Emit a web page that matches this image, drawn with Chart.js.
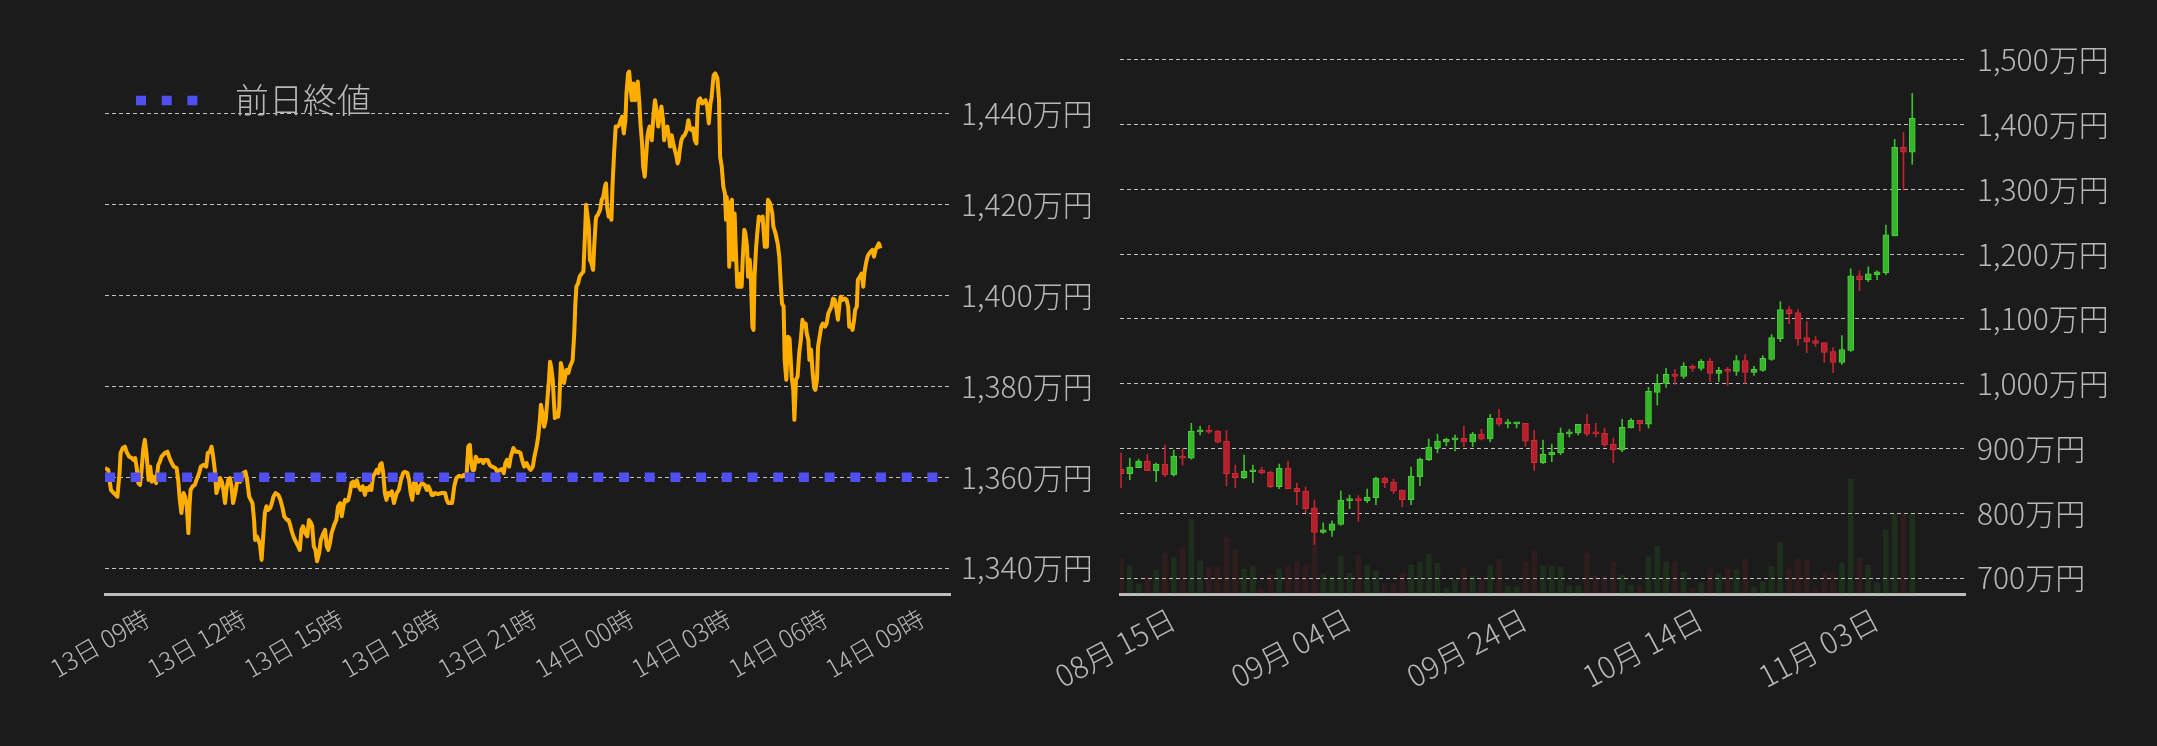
<!DOCTYPE html>
<html>
<head>
<meta charset="utf-8">
<script src="https://cdn.jsdelivr.net/npm/chart.js@4.4.1/dist/chart.umd.min.js"></script>
<style>
  html, body { margin: 0; padding: 0; background: #1b1b1b; width: 2157px; height: 746px; overflow: hidden; }
  canvas { position: absolute; top: 0; }
  #intraday { left: 0; }
  #daily { left: 1000px; }
</style>
</head>
<body>
<canvas id="intraday" width="1100" height="746"></canvas>
<canvas id="daily" width="1157" height="746"></canvas>
<script>
const FONT = "'Noto Sans CJK JP', 'Noto Sans', sans-serif";
const TEXT = '#b8b8b8';
const GRID = 'rgba(212,212,212,0.9)';

// ---- intraday (13日 09時 -> 14日 09時), minutes since 13日 09:00, price in 万円
const minutes = [
  0,6,11,16,20,23,27,29,33,37,40,45,50,53,56,59,62,65,68,71,74,77,81,84,87,90,95,99,102,105,
  111,116,120,124,128,133,136,139,142,146,149,152,155,157,159,163,167,170,175,178,183,188,191,195,198,201,204,207,211,214,
  217,220,223,226,229,232,235,238,242,245,248,251,254,257,261,264,268,271,274,277,279,282,285,288,291,294,297,300,303,307,
  310,313,317,322,326,330,333,338,341,344,347,350,353,356,359,
  362,365,368,372,376,379,383,385,388,391,394,398,401,406,409,412,415,418,421,426,430,433,437,440,443,446,449,452,455,458,
  461,464,468,471,475,479,483,486,489,492,495,498,502,505,508,511,514,517,520,523,526,529,533,537,542,546,550,554,557,562,
  565,568,571,574,577,581,585,589,594,598,601,604,607,610,613,619,625,632,635,638,641,645,649,653,658,663,667,672,675,678,
  680,683,686,689,694,697,700,703,706,711,715,719,
  720,725,729,734,738,741,744,747,751,754,759,763,768,772,775,779,783,788,791,795,798,802,805,808,810,813,816,819,822,825,
  827,829,832,834,836,839,842,844,847,850,853,855,858,861,864,867,869,872,874,876,879,882,886,889,892,894,896,899,901,904,
  907,909,912,913,916,920,923,926,929,931,933,936,939,941,943,946,949,952,955,958,961,964,967,969,972,974,977,979,982,985,
  988,990,993,995,998,1000,1003,1005,1008,1010,1012,1016,1019,1022,1025,1028,1031,1034,1037,1039,1042,1045,1048,1050,1053,1056,1059,1062,1064,1066,
  1068,1071,1074,1077,1081,1084,
  1087,1090,1093,1096,1099,1101,1103,1106,1110,1113,1116,1119,1122,1125,1127,1129,1131,1134,1138,1141,1143,1146,1149,1152,1154,1155,1158,1160,1162,1165,
  1167,1170,1172,1175,1178,1181,1183,1185,1188,1190,1193,1195,1198,1200,1203,1205,1207,1210,1212,1215,1219,1222,1226,1230,1232,1236,1240,1242,1246,1250,
  1253,1256,1258,1261,1263,1266,1269,1272,1276,1279,1281,1284,1287,1290,1293,1296,1299,1302,1304,1307,1309,1312,1315,1318,1320,1323,1325,1328,1331,1334,
  1338,1341,1344,1347,1350,1353,1356,1359,1362,1365,1367,1371,1375,1378,1381,1383,1386,1389,1392,1394,1397,1399,1403,1406,1409,1411,1414,1417,1420,1423,
  1426,1429,1432,1435,1438,1441
];
const prices = [
  1362.0,1361.6,1357.2,1356.5,1356.1,1355.7,1360.9,1365.3,1366.4,1366.7,1365.6,1364.5,1364.2,1363.8,1364.2,1362.0,1358.7,1358.3,1361.6,1366.0,
  1368.2,1365.3,1359.4,1362.3,1359.0,1360.1,1358.7,1362.7,1363.4,1364.5,1365.3,1365.6,1364.2,1363.1,1362.3,1362.0,1359.4,1355.0,1352.1,1356.5,
  1355.7,1353.6,1347.7,1353.6,1357.2,1358.0,1358.3,1359.4,1360.9,1362.3,1362.7,1362.3,1365.3,1365.6,1366.7,1364.5,1361.6,1356.5,1358.0,1359.8,
  1359.0,1357.2,1354.3,1357.6,1359.4,1359.8,1358.0,1354.3,1356.5,1358.7,1359.4,1359.0,1359.8,1360.9,1361.2,1359.4,1355.7,1355.0,1354.3,1350.6,
  1346.2,1347.0,1346.2,1345.1,1341.8,1347.0,1352.1,1353.6,1352.8,1353.2,1354.3,1355.7,1356.5,1356.1,1355.0,1353.2,1351.4,1350.6,1350.6,1349.5,
  1348.1,1347.0,1346.2,1345.5,1344.8,
  1344.0,1348.4,1349.2,1347.7,1347.0,1350.6,1349.9,1349.2,1344.8,1344.0,1341.5,1343.3,1346.2,1347.7,1348.4,1344.8,1344.0,1345.5,1347.7,1349.5,
  1350.6,1353.6,1354.3,1351.4,1353.6,1355.0,1354.7,1355.0,1356.5,1358.7,1359.0,1358.0,1359.3,1358.0,1357.2,1358.0,1356.1,1357.6,1357.2,1358.0,
  1357.2,1360.1,1360.9,1361.6,1360.9,1362.7,1363.1,1360.9,1356.5,1355.0,1356.5,1356.1,1356.9,1354.3,1356.5,1357.2,1359.4,1360.9,1361.2,1360.9,
  1359.4,1356.5,1355.0,1358.7,1359.0,1356.5,1358.0,1358.7,1358.3,1357.2,1358.0,1357.2,1356.1,1356.1,1356.5,1356.3,1356.5,1356.5,1355.0,1354.3,
  1354.3,1354.3,1358.0,1359.8,1360.3,1360.1,1360.5,1360.5,1366.7,1367.1,1363.8,1361.6,1361.6,1364.5,1363.4,1363.8,1363.8,1363.1,1363.8,1363.8,
  1362.7,1362.3,
  1362.3,1362.0,1361.2,1361.6,1361.8,1360.9,1363.1,1363.8,1362.3,1364.5,1366.4,1365.6,1365.6,1365.3,1363.8,1362.3,1363.1,1362.0,1361.6,1362.3,
  1364.5,1366.7,1368.9,1372.6,1375.9,1374.1,1371.1,1372.6,1377.0,1381.4,1385.4,1384.3,1381.4,1377.0,1373.0,1374.1,1373.3,1375.5,1385.1,1383.6,
  1380.7,1382.1,1383.6,1382.9,1384.3,1385.1,1385.8,1391.6,1398.2,1401.9,1402.6,1404.1,1404.8,1405.2,1413.6,1419.9,1418.0,1415.1,1407.8,1407.0,
  1405.6,1410.7,1416.6,1417.3,1417.7,1418.8,1421.0,1421.7,1423.9,1424.6,1419.5,1417.3,1418.0,1416.6,1423.9,1431.2,1437.1,1437.1,1437.4,1438.5,
  1439.3,1435.6,1438.5,1444.4,1448.8,1449.2,1445.1,1442.9,1446.6,1442.9,1445.9,1447.0,1442.2,1437.8,1433.4,1428.3,1426.1,1429.7,1434.9,1436.3,
  1437.1,1434.1,1439.3,1442.9,1440.7,1437.1,1439.3,1441.5,1438.5,1434.1,1436.3,1437.1,1434.9,1432.7,1435.2,1433.4,1431.9,1430.5,1429.0,1429.7,
  1431.9,1434.1,1434.9,1435.2,1436.3,1438.5,
  1436.7,1436.3,1436.7,1434.1,1433.4,1440.7,1442.9,1443.3,1442.2,1442.6,1442.9,1441.5,1437.8,1442.2,1443.3,1445.9,1448.4,1448.8,1447.7,1442.9,
  1430.5,1428.3,1423.9,1422.4,1416.6,1421.7,1418.8,1406.3,1420.2,1421.0,1407.8,1418.0,1410.7,1401.9,1401.9,1404.8,1401.9,1407.8,1414.4,1413.6,
  1410.7,1404.1,1407.8,1404.8,1393.1,1392.4,1404.1,1410.7,1413.6,1417.3,1416.6,1417.3,1410.7,1410.7,1421.0,1420.2,1418.0,1415.1,1413.6,1411.4,
  1408.5,1401.9,1398.2,1397.5,1385.8,1381.4,1390.9,1390.5,1382.1,1379.2,1372.6,1381.4,1382.1,1387.3,1390.2,1394.6,1393.1,1393.8,1391.6,1390.2,
  1385.8,1388.0,1382.9,1379.6,1379.2,1381.4,1388.7,1390.9,1393.1,1393.8,1393.1,1393.8,1396.0,1396.8,1397.5,1399.3,1399.0,1397.1,1394.6,1398.2,
  1399.7,1399.0,1399.3,1399.0,1397.5,1393.1,1393.5,1392.4,1394.6,1396.8,1397.5,1403.4,1404.1,1404.8,1401.9,1404.8,1407.0,1408.5,1409.2,1409.6,
  1410.0,1408.5,1410.0,1410.7,1411.4,1410.3
];
const prevClose = 1360;
const hourTicks = [0, 3, 6, 9, 12, 15, 18, 21, 24];
const hourTickLabels = ['13日 09時', '13日 12時', '13日 15時', '13日 18時', '13日 21時', '14日 00時', '14日 03時', '14日 06時', '14日 09時'];
const intradayYTicks = [1340, 1360, 1380, 1400, 1420, 1440];
const HOUR_MIN = 0, HOUR_MAX = 26.17;

// ---- daily candles, 08/15 .. 11/13 (index = day), price in 万円
const dayTicks = [0, 20, 40, 60, 80];
const dayTickLabels = ['08月 15日', '09月 04日', '09月 24日', '10月 14日', '11月 03日'];
const open = [
  868.2,861.0,870.3,880.5,865.6,875.9,859.5,888.2,885.1,925.6,928.2,926.7,911.3,862.1,854.9,864.1,866.7,863.6,841.0,869.7,
  838.9,834.4,808.2,770.3,773.3,782.6,819.5,822.1,819.5,824.1,854.4,848.2,835.9,821.0,856.4,882.6,900.5,910.3,913.3,915.9,
  910.3,922.1,914.9,946.7,937.9,937.9,939.0,912.8,878.0,890.3,893.3,922.6,924.1,937.4,923.6,923.6,906.7,897.9,931.8,943.6,
  937.4,986.7,1000.5,1014.4,1011.3,1026.7,1023.6,1034.4,1015.9,1020.5,1019.0,1035.9,1017.4,1020.5,1037.4,1069.7,1114.4,1109.7,1071.3,1066.7,
  1063.6,1049.7,1032.8,1051.3,1166.7,1160.5,1168.2,1171.3,1228.2,1365.1,1357.4
];
const high = [
  892.8,885.1,883.6,891.3,877.4,905.1,897.4,900.0,939.0,934.4,935.9,928.2,928.2,874.4,889.7,874.4,870.8,865.1,875.9,880.5,
  846.7,840.5,820.5,785.1,788.2,834.4,828.2,827.2,837.4,855.9,855.9,852.8,835.9,871.3,885.1,914.4,922.1,915.9,920.5,934.4,
  925.1,929.7,952.8,960.5,945.1,940.5,939.0,928.2,912.8,906.7,931.3,929.7,937.4,952.8,939.0,931.3,915.9,945.1,946.7,943.6,
  994.4,1014.4,1023.6,1022.1,1032.8,1029.7,1037.4,1039.0,1025.1,1025.1,1043.6,1045.1,1026.7,1043.6,1075.9,1126.7,1119.0,1114.4,1095.9,1072.8,
  1063.6,1055.9,1074.4,1177.4,1174.4,1180.5,1174.4,1245.1,1377.4,1388.2,1448.2
];
const low = [
  839.5,851.8,870.3,865.6,848.7,856.4,857.4,874.4,883.6,921.0,923.1,908.7,842.6,839.5,853.3,847.2,860.5,839.5,837.9,837.9,
  813.3,801.0,751.8,768.7,764.1,781.0,807.2,787.2,816.4,813.3,839.5,830.3,810.3,813.3,842.6,881.0,893.3,904.1,896.4,902.6,
  902.6,912.8,910.3,934.9,931.8,931.8,903.6,865.6,876.4,879.5,890.3,917.9,921.0,919.5,917.9,902.6,878.0,894.9,931.8,927.2,
  931.3,966.7,994.4,999.0,1008.2,1019.0,1020.5,1003.6,1003.6,997.5,1012.8,1000.5,1012.8,1019.0,1035.9,1065.1,1092.8,1059.0,1048.2,1057.4,
  1032.8,1017.4,1029.7,1049.7,1143.6,1157.4,1160.5,1168.2,1228.2,1299.0,1339.0
];
const close = [
  861.0,871.3,880.0,865.6,875.9,859.5,888.2,885.1,926.7,928.2,925.1,909.7,861.0,854.9,865.1,866.7,862.6,841.0,869.7,837.9,
  833.3,807.2,770.3,774.4,783.6,820.5,822.1,819.5,825.1,854.4,847.2,834.9,821.0,857.4,883.6,902.1,911.3,914.4,916.4,910.3,
  922.1,914.4,946.7,937.4,939.0,939.0,911.3,878.0,891.3,894.4,923.6,925.1,937.4,922.1,922.6,905.6,897.9,932.8,943.6,937.9,
  988.2,1000.5,1014.4,1011.3,1026.7,1023.6,1034.4,1015.9,1020.5,1019.0,1035.9,1017.4,1022.1,1039.0,1071.3,1114.4,1108.2,1069.7,1065.1,1062.1,
  1048.2,1032.8,1052.8,1166.7,1160.5,1169.7,1172.8,1229.7,1365.1,1357.4,1409.7
];
// traded volume, relative units
const volume = [
  36,28,10,17,24,41,36,46,75,33,27,27,57,44,25,28,5,20,25,28,
  33,29,57,20,17,38,21,39,29,23,9,10,21,29,32,40,31,6,14,26,
  18,16,28,35,8,7,32,43,28,28,27,8,8,41,18,18,32,19,9,8,
  37,48,32,32,22,6,11,25,20,25,24,35,7,12,28,52,25,36,34,6,
  22,21,31,115,36,29,11,64,80,81,80
];
const dailyYTicks = [700, 800, 900, 1000, 1100, 1200, 1300, 1400, 1500];
const DAY_MIN = -0.114, DAY_MAX = 96;
const VOLUME_MAX = 542;

Chart.defaults.font.family = FONT;
Chart.defaults.font.weight = 300;
Chart.defaults.color = TEXT;

const fixedTicks = vals => scale => { scale.ticks = vals.map(v => ({ value: v })); };
const yen = v => v.toLocaleString('en-US') + '万円';

// ---------- left: intraday line
new Chart(document.getElementById('intraday'), {
  type: 'line',
  data: {
    datasets: [
      {
        label: '前日終値',
        data: [{ x: HOUR_MIN, y: prevClose }, { x: HOUR_MAX, y: prevClose }],
        borderColor: '#4f4ff2',
        borderWidth: 9.5,
        borderDash: [10, 15.7],
        borderCapStyle: 'butt',
        pointRadius: 0,
        order: 0
      },
      {
        label: '価格',
        data: minutes.map((m, i) => ({ x: m / 60, y: prices[i] })),
        borderColor: '#ffae00',
        borderWidth: 4,
        borderJoinStyle: 'round',
        pointRadius: 0,
        tension: 0,
        order: 1
      }
    ]
  },
  options: {
    responsive: false,
    animation: false,
    devicePixelRatio: 1,
    layout: { padding: { left: 105, top: 52.5, right: 0, bottom: 0 } },
    plugins: {
      tooltip: { enabled: false },
      legend: {
        position: 'chartArea',
        align: 'start',
        // empty title only used as a spacer above the legend row
        title: { display: true, text: '', font: { size: 10 }, padding: { top: 40.5, bottom: 0 } },
        labels: {
          usePointStyle: true,
          pointStyleWidth: 82,
          padding: 31,
          font: { size: 34, family: FONT, weight: 300 },
          generateLabels: () => [{
            text: '前日終値',
            fillStyle: 'transparent',
            strokeStyle: '#4f4ff2',
            fontColor: TEXT,
            lineWidth: 9.5,
            lineDash: [10, 15.7, 10, 15.7, 10, 300],
            lineCap: 'butt',
            pointStyle: 'line',
            rotation: 180,
            hidden: false,
            datasetIndex: 0
          }]
        }
      }
    },
    scales: {
      x: {
        type: 'linear',
        min: HOUR_MIN,
        max: HOUR_MAX,
        afterBuildTicks: fixedTicks(hourTicks),
        afterFit: s => { s.height = 152; s.paddingLeft = 0; s.paddingRight = 0; },
        grid: { display: false, drawTicks: false },
        border: { display: true, color: '#bdbdbd', width: 3 },
        ticks: {
          autoSkip: false,
          minRotation: 30,
          maxRotation: 30,
          labelOffset: 42,
          padding: 9,
          color: TEXT,
          font: { size: 25, family: FONT, weight: 300 },
          callback: (v, i) => hourTickLabels[i]
        }
      },
      y: {
        position: 'right',
        min: 1334.3,
        max: 1453.4,
        afterBuildTicks: fixedTicks(intradayYTicks),
        afterFit: s => { s.width = 150; s.paddingTop = 0; s.paddingBottom = 0; },
        grid: { color: GRID, lineWidth: 1, drawTicks: false },
        border: { display: false, dash: [4, 3] },
        ticks: { padding: 11, color: TEXT, font: { size: 30, family: FONT, weight: 300 }, callback: yen }
      }
    }
  }
});

// ---------- right: daily candles with volume
const rising = close.map((c, i) => c >= open[i]);
new Chart(document.getElementById('daily'), {
  type: 'bar',
  data: {
    datasets: [
      {
        label: 'body',
        data: open.map((o, i) => ({ x: i, y: [o, close[i]] })),
        backgroundColor: rising.map(u => u ? '#35b62a' : '#b81f2c'),
        borderColor: rising.map(u => u ? '#4ccd3b' : '#cf2d39'),
        borderWidth: 1,
        borderSkipped: false,
        barThickness: 6,
        minBarLength: 2,
        grouped: false,
        order: 0
      },
      {
        label: 'wick',
        data: low.map((l, i) => ({ x: i, y: [l, high[i]] })),
        backgroundColor: rising.map(u => u ? '#3cbf2c' : '#c3232f'),
        barThickness: 1,
        grouped: false,
        order: 1
      },
      {
        label: 'volume',
        data: volume.map((v, i) => ({ x: i, y: v })),
        yAxisID: 'yv',
        backgroundColor: rising.map(u => u ? 'rgba(45,170,40,0.15)' : 'rgba(200,40,45,0.12)'),
        barThickness: 5,
        grouped: false,
        order: 2
      }
    ]
  },
  options: {
    responsive: false,
    animation: false,
    devicePixelRatio: 1,
    layout: { padding: { left: 120, top: 52.5, right: 0, bottom: 0 } },
    plugins: { tooltip: { enabled: false }, legend: { display: false } },
    scales: {
      x: {
        type: 'linear',
        offset: false,
        min: DAY_MIN,
        max: DAY_MAX,
        afterBuildTicks: fixedTicks(dayTicks),
        afterFit: s => { s.height = 152; s.paddingLeft = 0; s.paddingRight = 0; },
        grid: { display: false, drawTicks: false },
        border: { display: true, color: '#bdbdbd', width: 3 },
        ticks: {
          autoSkip: false,
          minRotation: 28,
          maxRotation: 28,
          labelOffset: 52,
          padding: 7,
          color: TEXT,
          font: { size: 30, family: FONT, weight: 300 },
          callback: (v, i) => dayTickLabels[i]
        }
      },
      y: {
        position: 'right',
        min: 675.3,
        max: 1511.4,
        afterBuildTicks: fixedTicks(dailyYTicks),
        afterFit: s => { s.width = 192; s.paddingTop = 0; s.paddingBottom = 0; },
        grid: { color: GRID, lineWidth: 1, drawTicks: false },
        border: { display: false, dash: [4, 3] },
        ticks: { padding: 12, color: TEXT, font: { size: 30, family: FONT, weight: 300 }, callback: yen }
      },
      yv: { display: false, min: 0, max: VOLUME_MAX }
    }
  }
});
</script>
</body>
</html>
